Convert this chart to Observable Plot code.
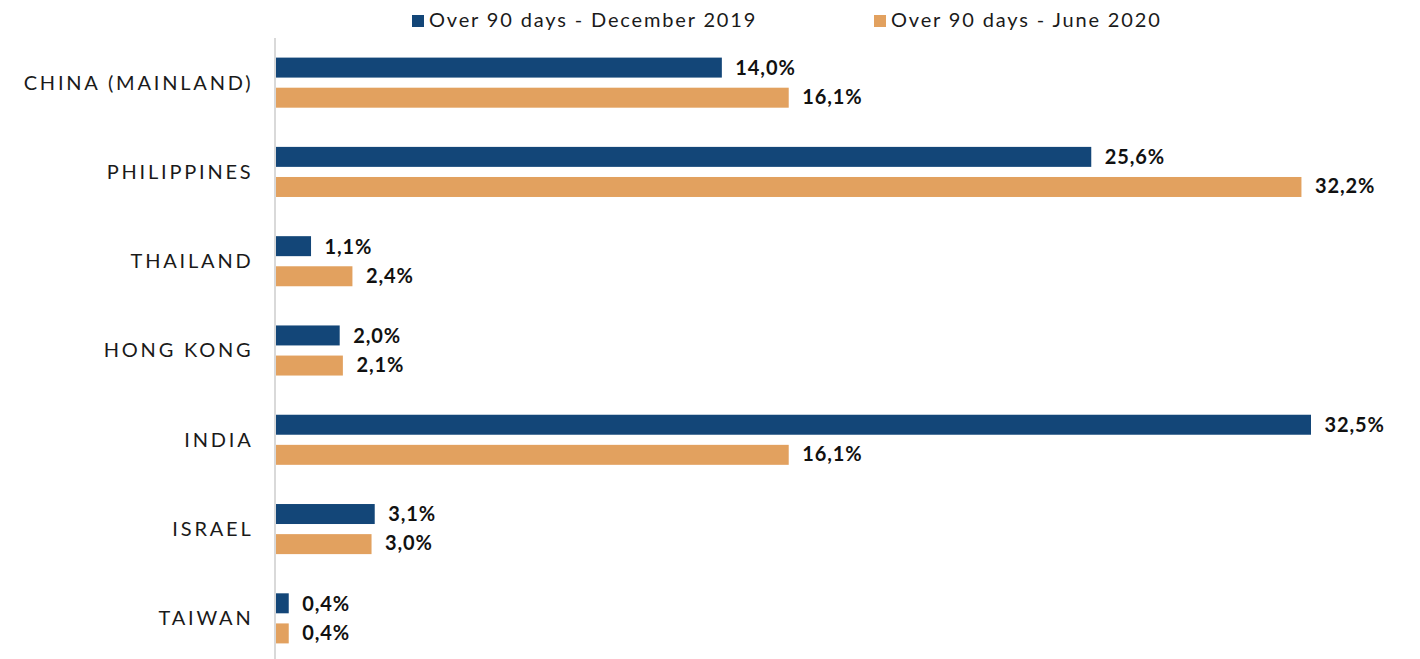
<!DOCTYPE html>
<html>
<head>
<meta charset="utf-8">
<script src="https://cdn.jsdelivr.net/npm/d3@7"></script>
<script src="https://cdn.jsdelivr.net/npm/@observablehq/plot@0.6"></script>
<style>
  html, body { margin: 0; padding: 0; background: #fff; }
  body { width: 1420px; height: 659px; overflow: hidden; font-family: Lato, "Open Sans", sans-serif; }
  #legend { position: relative; height: 38px; width: 1420px; }
  .item { position: absolute; top: 6px; font-size: 20px; letter-spacing: 1.85px; color: #1a1a1a; white-space: nowrap; line-height: 26px; }
  .sw { display: inline-block; width: 12px; height: 12px; margin-right: 5px; vertical-align: 0px; }
  #chart svg { display: block; }
  #chart svg [aria-label="y-axis tick label"] text { letter-spacing: 2.8px; }
  #chart svg .vlabel text { letter-spacing: 0.9px; }
</style>
</head>
<body>
<div id="legend"></div>
<div id="chart"></div>
<script>
const countries = ["CHINA (MAINLAND)", "PHILIPPINES", "THAILAND", "HONG KONG", "INDIA", "ISRAEL", "TAIWAN"];
const seriesNames = ["Over 90 days - December 2019", "Over 90 days - June 2020"];
const dec2019 = [14.0, 25.6, 1.1, 2.0, 32.5, 3.1, 0.4];
const jun2020 = [16.1, 32.2, 2.4, 2.1, 16.1, 3.0, 0.4];
const colors = ["#134678", "#E2A15F"];

const rows = [];
countries.forEach((c, i) => {
  rows.push({country: c, series: seriesNames[0], value: dec2019[i]});
  rows.push({country: c, series: seriesNames[1], value: jun2020[i]});
});
const blue = rows.filter(d => d.series === seriesNames[0]);
const orange = rows.filter(d => d.series === seriesNames[1]);
const fmt = d => d.value.toFixed(1).replace(".", ",") + "%";

// legend
const legend = document.getElementById("legend");
const lefts = [412, 874];
seriesNames.forEach((s, i) => {
  const el = document.createElement("div");
  el.className = "item";
  el.style.left = lefts[i] + "px";
  el.innerHTML = `<span class="sw" style="background:${colors[i]}"></span>${s}`;
  legend.appendChild(el);
});

const chart = Plot.plot({
  width: 1420,
  height: 621,
  marginLeft: 276,
  marginRight: 109,
  marginTop: 0,
  marginBottom: 0,
  style: {fontFamily: "Lato, 'Open Sans', sans-serif", color: "#1a1a1a", background: "#fff"},
  x: {domain: [0, 32.5], axis: null},
  y: {domain: countries, range: [0, 625], padding: 0, round: false, label: null},
  marks: [
    Plot.axisY({tickSize: 0, tickPadding: 23, fontSize: 20, label: null}),
    Plot.barX(blue, {x: "value", y: "country", fill: colors[0], insetTop: 19.6, insetBottom: 49.7}),
    Plot.barX(orange, {x: "value", y: "country", fill: colors[1], insetTop: 49.7, insetBottom: 19.6}),
    Plot.ruleX([0], {stroke: "#d9d9d9", strokeWidth: 2, dx: -1.5}),
    Plot.text(blue, {x: "value", y: "country", text: fmt, dx: 13, dy: -14.5, textAnchor: "start", fontSize: 20, fontWeight: "bold", fill: "#111", className: "vlabel"}),
    Plot.text(orange, {x: "value", y: "country", text: fmt, dx: 13, dy: 14.5, textAnchor: "start", fontSize: 20, fontWeight: "bold", fill: "#111", className: "vlabel"})
  ]
});
document.getElementById("chart").appendChild(chart);
</script>
</body>
</html>
